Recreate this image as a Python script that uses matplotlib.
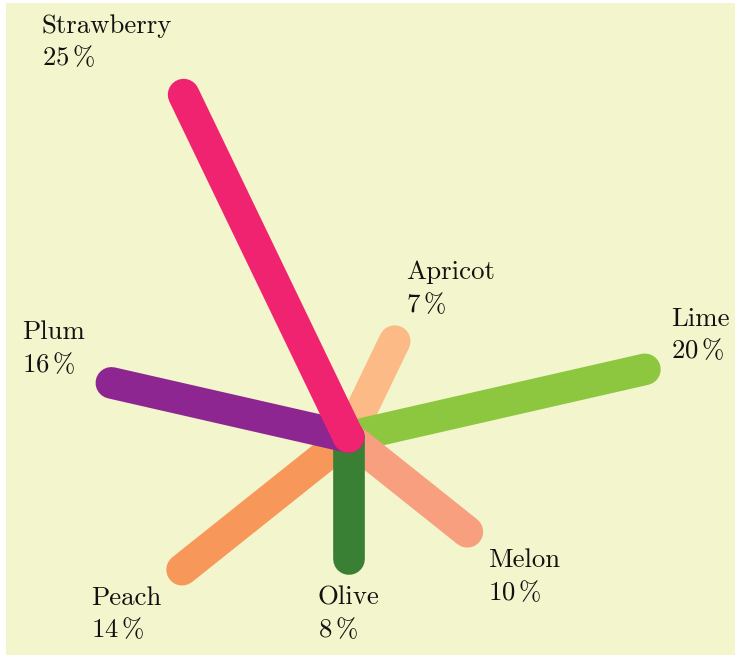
import numpy as np
import matplotlib.pyplot as plt
from matplotlib.patches import Rectangle

fruits = ["Apricot", "Lime", "Melon", "Olive", "Peach", "Plum", "Strawberry"]
shares = [7, 20, 10, 8, 14, 16, 25]
colors = ["#FBBA86", "#8DC63F", "#F79F7F", "#3A8034", "#F7975A", "#8D2690", "#EF2370"]
# stacking order of the spokes (last one on top)
draw_order = ["Apricot", "Lime", "Melon", "Peach", "Olive", "Plum", "Strawberry"]

W, H = 738, 657
px = 15.2                 # pixels per percent
cx, cy = 348.5, 220.0     # hub position in pixels from bottom-left
gap = 27 / px             # distance from spoke end to its label

plt.rcParams["font.family"] = "cmr10"
plt.rcParams["mathtext.fontset"] = "cm"

fig = plt.figure(figsize=(W / 100, H / 100), dpi=100)
fig.patches.append(Rectangle((6, 2), 729, 652, transform=None,
                             facecolor="#F3F5CC", edgecolor="none", zorder=-5))
ax = fig.add_axes([0, 0, 1, 1])
ax.patch.set_alpha(0)
ax.set_xlim(-cx / px, (W - cx) / px)
ax.set_ylim(-cy / px, (H - cy) / px)
ax.set_aspect("equal")
ax.axis("off")

n = len(fruits)
step = 2 * np.pi / n
angles = {f: np.pi / 2 - (i + 0.5) * step for i, f in enumerate(fruits)}
value = dict(zip(fruits, shares))
color = dict(zip(fruits, colors))

for z, f in enumerate(draw_order):
    a, v = angles[f], value[f]
    ax.plot([0, v * np.cos(a)], [0, v * np.sin(a)], color=color[f],
            lw=22.8, solid_capstyle="round", zorder=2 + z)

for f in fruits:
    a, v = angles[f], value[f]
    c, s = np.cos(a), np.sin(a)
    ha = "left" if c > 0.1 else ("right" if c < -0.1 else "center")
    va = "bottom" if s > 0.1 else ("top" if s < -0.1 else "center")
    ax.text((v + gap) * c, (v + gap) * s, f + "\n" + str(v) + r"$\,$%",
            ha=ha, va=va, multialignment="left", fontsize=19.3,
            linespacing=1.32, color="#111111", zorder=20)

fig.savefig("out.png", dpi=100)
